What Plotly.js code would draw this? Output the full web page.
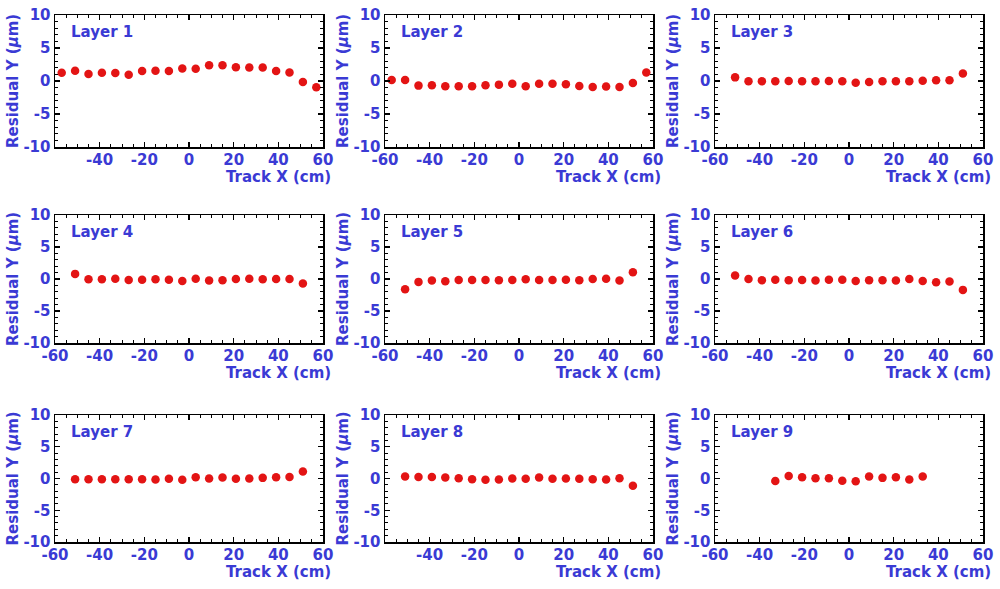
<!DOCTYPE html>
<html>
<head>
<meta charset="utf-8">
<script src="https://cdn.plot.ly/plotly-3.0.1.min.js"></script>
<style>html,body{margin:0;padding:0;background:#fff;}#chart{width:1000px;height:589px;}</style>
</head>
<body>
<div id="chart"></div>
<script>
// Track X positions (cm)
const xFull = [-57,-51,-45,-39,-33,-27,-21,-15,-9,-3,3,9,15,21,27,33,39,45,51,57];
const xMid  = [-51,-45,-39,-33,-27,-21,-15,-9,-3,3,9,15,21,27,33,39,45,51];
const xL9   = [-33,-27,-21,-15,-9,-3,3,9,15,21,27,33];

// Residual Y (um) per layer
const layer1 = [1.25,1.55,1.05,1.25,1.2,0.95,1.5,1.55,1.5,1.9,1.85,2.4,2.4,2.1,2.05,2.05,1.5,1.3,-0.15,-0.95];
const layer2 = [0.15,0.15,-0.7,-0.65,-0.8,-0.8,-0.8,-0.65,-0.55,-0.4,-0.8,-0.4,-0.4,-0.5,-0.75,-0.9,-0.85,-0.9,-0.3,1.3];
const layer3 = [0.55,-0.05,-0.05,-0.05,0,-0.05,-0.05,0,-0.05,-0.25,-0.15,-0.05,-0.05,-0.05,0.05,0.1,0.1,1.15];
const layer4 = [0.8,-0.05,-0.05,0.05,-0.15,-0.1,-0.05,-0.1,-0.3,0.05,-0.25,-0.2,0,0.05,-0.05,0,0,-0.7];
const layer5 = [-1.6,-0.45,-0.25,-0.35,-0.15,-0.15,-0.15,-0.2,-0.15,-0.05,-0.15,-0.15,-0.1,-0.2,0,0.05,-0.25,1.05];
const layer6 = [0.55,0,-0.2,-0.1,-0.2,-0.15,-0.25,-0.1,-0.1,-0.3,-0.2,-0.2,-0.25,0,-0.3,-0.5,-0.4,-1.7];
const layer7 = [-0.1,-0.1,-0.1,-0.1,-0.1,-0.1,-0.15,-0.05,-0.2,0.2,0,0.15,-0.05,0,0.1,0.2,0.25,1.1];
const layer8 = [0.3,0.25,0.25,0.15,0.05,-0.1,-0.2,-0.15,0,-0.05,0.15,-0.05,0,-0.05,-0.1,-0.15,0.05,-1.15];
const layer9 = [-0.4,0.4,0.2,0.05,0.05,-0.35,-0.45,0.3,0.1,0.2,-0.15,0.3];

const layerNames = ["Layer 1","Layer 2","Layer 3","Layer 4","Layer 5","Layer 6","Layer 7","Layer 8","Layer 9"];
const xTickFull = [-60,-40,-20,0,20,40,60];
const xTickNo60 = [-40,-20,0,20,40,60];
const yTicks = [-10,-5,0,5,10];
const xTitle = "Track X (cm)";
const yTitle = "Residual Y (<i>μ</i>m)";

const xs = [xFull,xFull,xMid,xMid,xMid,xMid,xMid,xMid,xL9];
const ys = [layer1,layer2,layer3,layer4,layer5,layer6,layer7,layer8,layer9];
const xTickSets = [xTickNo60,xTickFull,xTickFull,xTickFull,xTickFull,xTickFull,xTickFull,xTickNo60,xTickFull];

const W = 1000, H = 589;
const colPx = [[55,323],[385,653],[715,983]];
const rowPx = [[15,147],[215,343],[415,542]];
const blue = '#3a3ad4';
const fontFam = 'DejaVu Sans, Liberation Sans, sans-serif';

const data = [];
const layout = {
  width: W, height: H,
  margin: {l:0,r:0,t:0,b:0},
  paper_bgcolor: '#ffffff', plot_bgcolor: '#ffffff',
  showlegend: false,
  annotations: []
};

for (let i = 0; i < 9; i++) {
  const r = Math.floor(i/3), c = i % 3;
  const sfx = i === 0 ? '' : String(i+1);
  data.push({
    type: 'scatter', mode: 'markers',
    x: xs[i], y: ys[i],
    xaxis: 'x' + sfx, yaxis: 'y' + sfx,
    marker: {color: '#e31414', size: 8.5, line: {width: 0}},
    hoverinfo: 'skip'
  });
  const common = {
    showline: true, linecolor: '#000', linewidth: 1.5, mirror: 'ticks',
    ticks: 'inside', ticklen: 5, tickwidth: 1.2, tickcolor: '#000',
    showgrid: false, zeroline: false,
    tickfont: {family: fontFam, size: 15, color: blue, weight: 'bold'},
    fixedrange: true
  };
  layout['xaxis' + sfx] = Object.assign({}, common, {
    domain: [colPx[c][0]/W, colPx[c][1]/W],
    anchor: 'y' + sfx,
    range: [-60, 60],
    tickmode: 'array', tickvals: xTickSets[i], ticktext: xTickSets[i].map(String),
    ticklabelstandoff: -2,
    minor: {dtick: 5, tick0: 0, ticks: 'inside', ticklen: 3, tickcolor: '#000', tickwidth: 1}
  });
  layout['yaxis' + sfx] = Object.assign({}, common, {
    domain: [1 - rowPx[r][1]/H, 1 - rowPx[r][0]/H],
    anchor: 'x' + sfx,
    range: [-10, 10],
    tickmode: 'array', tickvals: yTicks, ticktext: yTicks.map(String),
    ticklabelstandoff: 0,
    minor: {dtick: 1, tick0: 0, ticks: 'inside', ticklen: 3, tickcolor: '#000', tickwidth: 1}
  });
  // Layer label
  layout.annotations.push({
    xref: 'paper', yref: 'paper',
    x: (colPx[c][0] + 14)/W, y: 1 - (rowPx[r][0] + 17)/H,
    xanchor: 'left', yanchor: 'middle',
    text: layerNames[i], showarrow: false,
    font: {family: fontFam, size: 15, color: blue, weight: 'bold'}
  });
  // X title
  layout.annotations.push({
    xref: 'paper', yref: 'paper',
    x: (colPx[c][1] + 10)/W, y: 1 - (rowPx[r][1] + 30)/H,
    xanchor: 'right', yanchor: 'middle',
    text: xTitle, showarrow: false,
    font: {family: fontFam, size: 15, color: blue, weight: 'bold'}
  });
  // Y title
  layout.annotations.push({
    xref: 'paper', yref: 'paper',
    x: (colPx[c][0] - 42)/W, y: 1 - ((rowPx[r][0] + rowPx[r][1])/2)/H,
    xanchor: 'center', yanchor: 'middle', textangle: -90,
    text: yTitle, showarrow: false,
    font: {family: fontFam, size: 15, color: blue, weight: 'bold'}
  });
}

Plotly.newPlot('chart', data, layout, {staticPlot: true, displayModeBar: false});
</script>
</body>
</html>
